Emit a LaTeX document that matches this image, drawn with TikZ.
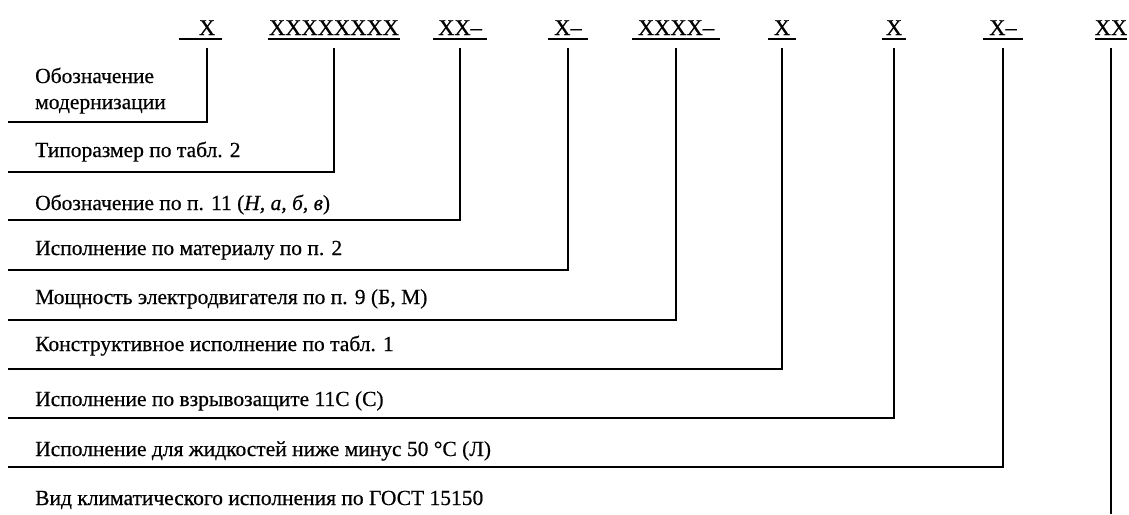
\documentclass[tikz,border=0pt]{standalone}
\usepackage{fontspec}
\setmainfont{Liberation Serif}[FakeBold=0.5]
\usetikzlibrary{positioning}

\begin{document}
\begin{tikzpicture}[x=1pt, y=-1pt,
    code/.style={font=\fontsize{22.5}{26}\selectfont, anchor=base, inner xsep=0pt, inner ysep=4pt},
    desc/.style={font=\fontsize{21.5}{26}\selectfont, anchor=base west, inner sep=0pt, align=left},
    uline/.style={line width=1.6pt},
    conn/.style={line width=1.5pt}
]
    \useasboundingbox (0,0) rectangle (1129,514);

    % Designation positions
    \node[code, minimum width=30] (c1) at (207,35) {Х};
    \node[code, minimum width=132] (c2) at (334,35) {ХХХХХХХХ};
    \node[code, minimum width=54] (c3) at (460,35) {ХХ–};
    \node[code, minimum width=39] (c4) at (568,35) {Х–};
    \node[code, minimum width=87] (c5) at (676,35) {ХХХХ–};
    \node[code, minimum width=27] (c6) at (782,35) {Х};
    \node[code, minimum width=24] (c7) at (894,35) {Х};
    \node[code, minimum width=39] (c8) at (1003,35) {Х–};
    \node[code, minimum width=32] (c9) at (1111,35) {ХХ};
    \draw[uline] ([xshift=-13pt]c1.south west) -- (c1.south east);
    \foreach \c in {c2,c3,c4,c5,c6,c7,c8,c9}
        \draw[uline] (\c.south west) -- (\c.south east);

    % Descriptions
    \node[desc] (d1) at (35,109) {Обозначение\\модернизации};
    \node[desc] (d2) at (35,157) {Типоразмер по табл. 2};
    \node[desc] (d3) at (35,210) {Обозначение по п. 11 (\textit{Н, а, б, в})};
    \node[desc] (d4) at (35,255) {Исполнение по материалу по п. 2};
    \node[desc] (d5) at (35,304) {Мощность электродвигателя по п. 9 (Б, М)};
    \node[desc] (d6) at (35,351) {Конструктивное исполнение по табл. 1};
    \node[desc] (d7) at (35,406) {Исполнение по взрывозащите 11С (С)};
    \node[desc] (d8) at (35,456) {Исполнение для жидкостей ниже минус 50~°С (Л)};
    \node[desc] (d9) at (35,505) {Вид климатического исполнения по ГОСТ 15150};

    % Leader ends
    \coordinate (e1) at (8,122);
    \coordinate (e2) at (8,172);
    \coordinate (e3) at (8,220);
    \coordinate (e4) at (8,270);
    \coordinate (e5) at (8,320);
    \coordinate (e6) at (8,369);
    \coordinate (e7) at (8,418);
    \coordinate (e8) at (8,467);
    \coordinate (e9) at (1111,514);

    \foreach \c/\e in {c1/e1,c2/e2,c3/e3,c4/e4,c5/e5,c6/e6,c7/e7,c8/e8}
        \draw[conn] ([yshift=-9pt]\c.south) |- (\e);
    \draw[conn] ([yshift=-9pt]c9.south) -- (c9.south |- e9);
\end{tikzpicture}
\end{document}
